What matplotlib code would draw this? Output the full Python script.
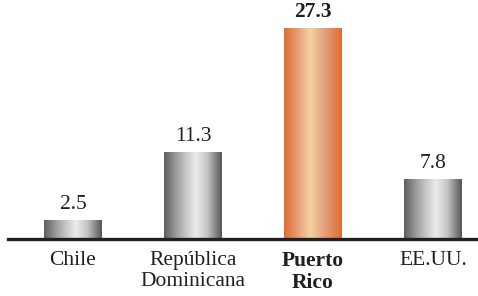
import numpy as np
import matplotlib
matplotlib.use("Agg")
import matplotlib.pyplot as plt
from matplotlib.colors import LinearSegmentedColormap

categories = ["Chile", "República\nDominicana", "Puerto\nRico", "EE.UU."]
values = [2.5, 11.3, 27.3, 7.8]
value_labels = ["2.5", "11.3", "27.3", "7.8"]
highlight = [False, False, True, False]

plt.rcParams['font.family'] = ['Liberation Serif', 'DejaVu Serif']

fig = plt.figure(figsize=(4.78, 2.96), dpi=100)
ax = fig.add_axes([8/478, 57/296, 470/478, 239/296])

grey = LinearSegmentedColormap.from_list("g", [
    (0.0, "#5e5e5e"), (0.25, "#a8a8a8"), (0.55, "#ececec"),
    (0.75, "#c4c4c4"), (1.0, "#555555")])
orange = LinearSegmentedColormap.from_list("o", [
    (0.0, "#e06c30"), (0.25, "#e8a07c"), (0.45, "#f3d3a0"),
    (0.7, "#e4a080"), (1.0, "#e06c30")])

x = np.arange(len(categories))
width = 0.48
bars = ax.bar(x, values, width=width, color="none", edgecolor="none")
grad = np.linspace(0, 1, 256).reshape(1, -1)
for rect, hl in zip(bars, highlight):
    x0, y0 = rect.get_x(), rect.get_y()
    w, h = rect.get_width(), rect.get_height()
    im = ax.imshow(grad, cmap=orange if hl else grey, aspect="auto",
                   extent=(x0, x0 + w, y0, y0 + h), zorder=2)
    im.set_clip_path(rect)

for xi, v, lab, hl in zip(x, values, value_labels, highlight):
    ax.annotate(lab, (xi, v), xytext=(0, 4), textcoords="offset points",
                ha="center", va="bottom", fontsize=15.5,
                fontweight="bold" if hl else "normal", color="#231f20")

ax.set_xlim(-65/120, 405/120)
ax.set_ylim(0, 30.9)
ax.set_xticks(x)
ax.set_xticklabels(categories, fontsize=15.5, color="#231f20", linespacing=1.15)
for t, hl in zip(ax.get_xticklabels(), highlight):
    if hl:
        t.set_fontweight("bold")
ax.tick_params(axis="x", length=0, pad=8.5)
ax.set_yticks([])
for s in ["top", "left", "right"]:
    ax.spines[s].set_visible(False)
ax.spines["bottom"].set_linewidth(2.4)
ax.spines["bottom"].set_color("#231f20")
ax.spines["bottom"].set_zorder(3)

fig.savefig("out.png", dpi=100)
